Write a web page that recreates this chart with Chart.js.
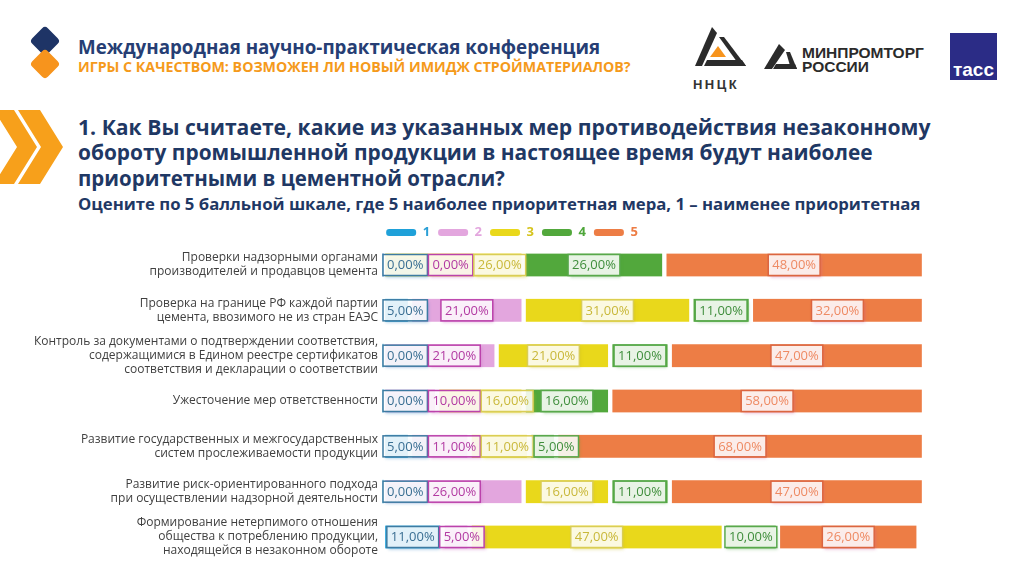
<!DOCTYPE html>
<html>
<head>
<meta charset="utf-8">
<script src="https://cdn.jsdelivr.net/npm/chart.js@4.4.0/dist/chart.umd.min.js"></script>
<style>
  body { margin: 0; width: 1024px; height: 576px; overflow: hidden; background: #fff; position: relative; font-family: 'Open Sans', sans-serif; }
  .t { position: absolute; white-space: nowrap; line-height: 1; }
  #wrap { position: absolute; left: 0; top: 218px; width: 1024px; height: 358px; }
</style>
</head>
<body>
<!-- decorations: diamonds, chevrons, logos -->
<svg width="1024" height="200" style="position:absolute;left:0;top:0">
  <rect x="34" y="30" width="22" height="22" rx="4" fill="#1e3466" transform="rotate(45 45 41)"/>
  <rect x="34" y="53" width="22" height="22" rx="4" fill="#f7941d" transform="rotate(45 45 64)"/>
  <polygon points="-6,110 14,110 37,147 14,184 -6,184 17,147" fill="#f7a01b"/>
  <polygon points="18,110 40,110 63,147 40,184 18,184 41,147" fill="#f7a01b"/>
  <!-- ННЦК -->
  <polygon points="712,27 717,33 702,66 695,66" fill="#2b2b2b"/>
  <polygon points="719,37 724,37 746,66 740,66" fill="#2b2b2b"/>
  <polygon points="707,60 742,60 746,66 704,66" fill="#2b2b2b"/>
  <polygon points="718,46 726,57 710,57" fill="#f7941d"/>
  <text x="716" y="89" text-anchor="middle" font-family="Liberation Sans" font-weight="700" font-size="13" letter-spacing="2.5" fill="#333">ННЦК</text>
  <!-- Минпромторг -->
  <polygon points="779,44 785,50 772,69 764,69" fill="#2b2b2b"/>
  <polygon points="786,52 790,52 797,69 791,69" fill="#2b2b2b"/>
  <polygon points="776,64 795,64 797,69 773,69" fill="#2b2b2b"/>
  <text x="802" y="58" font-family="Liberation Sans" font-weight="700" font-size="15.5" fill="#2b2b2b">МИНПРОМТОРГ</text>
  <text x="802" y="72" font-family="Liberation Sans" font-weight="700" font-size="15.5" fill="#2b2b2b">РОССИИ</text>
  <!-- ТАСС -->
  <rect x="950" y="33" width="47" height="47" fill="#2b2c86"/>
  <text x="973.5" y="76" text-anchor="middle" font-family="Liberation Sans" font-weight="700" font-size="19" fill="#fff">тасс</text>
</svg>

<div class="t fit" data-w="522" data-cy="47" style="left:78px;font-size:18px;font-weight:700;color:#263e74">Международная научно-практическая конференция</div>
<div class="t fit" data-w="553" data-cy="67" style="left:78px;font-size:13px;font-weight:700;color:#f59a1b">ИГРЫ С КАЧЕСТВОМ: ВОЗМОЖЕН ЛИ НОВЫЙ ИМИДЖ СТРОЙМАТЕРИАЛОВ?</div>
<div class="t fit" data-w="853" data-cy="126" style="left:78px;font-size:20px;font-weight:700;color:#1f3864">1. Как Вы считаете, какие из указанных мер противодействия незаконному</div>
<div class="t fit" data-w="795" data-cy="152" style="left:78px;font-size:20px;font-weight:700;color:#1f3864">обороту промышленной продукции в настоящее время будут наиболее</div>
<div class="t fit" data-w="427" data-cy="178" style="left:78px;font-size:20px;font-weight:700;color:#1f3864">приоритетными в цементной отрасли?</div>
<div class="t fit" data-w="843" data-cy="204" style="left:78px;font-size:16px;font-weight:700;color:#1f3864">Оцените по 5 балльной шкале, где 5 наиболее приоритетная мера, 1 – наименее приоритетная</div>

<div id="wrap"><canvas id="c"></canvas></div>

<script>
// fit header lines to the widths seen in the reference
document.querySelectorAll('.fit').forEach(function (el) {
  var fs = parseFloat(el.style.fontSize);
  el.style.fontSize = (fs * el.dataset.w / el.offsetWidth) + 'px';
  el.style.top = (el.dataset.cy - el.offsetHeight / 2) + 'px';
});

// data
const categories = [
  ['Проверки надзорными органами', 'производителей и продавцов цемента'],
  ['Проверка на границе РФ каждой партии', 'цемента, ввозимого не из стран ЕАЭС'],
  ['Контроль за документами о подтверждении соответствия,', 'содержащимися в Едином реестре сертификатов', 'соответствия и декларации о соответствии'],
  ['Ужесточение мер ответственности'],
  ['Развитие государственных и межгосударственных', 'систем прослеживаемости продукции'],
  ['Развитие риск-ориентированного подхода', 'при осуществлении надзорной деятельности'],
  ['Формирование нетерпимого отношения', 'общества к потреблению продукции,', 'находящейся в незаконном обороте']
];
const seriesNames = ['1', '2', '3', '4', '5'];
const score1 = [0, 5, 0, 0, 5, 0, 11];
const score2 = [0, 21, 21, 10, 11, 26, 5];
const score3 = [26, 31, 21, 16, 11, 16, 47];
const score4 = [26, 11, 11, 16, 5, 11, 10];
const score5 = [48, 32, 47, 58, 68, 47, 26];

// styles
const barColors = ['#1fa1d9', '#e3a6de', '#e9d81b', '#52a83c', '#ed7d45'];
const legendText = ['#2a9fd6', '#e3a6de', '#d6c41e', '#4ea63a', '#ed7d45'];
const labelText = ['#3a6f93', '#b23aa2', '#c9b83a', '#3f8e3c', '#ee8a63'];
const labelBorder = ['#3d7ba2', '#bb42ab', '#d9cd55', '#58a84b', '#db6540'];
const labelShadow = ['rgba(40,130,190,0.45)', 'rgba(190,70,180,0.4)', 'rgba(200,185,30,0.45)', 'rgba(70,160,60,0.4)', 'rgba(200,80,150,0.4)'];

// value boxes: centred on the segment, pushed right so they never overlap
const valueLabels = {
  id: 'valueLabels',
  afterDatasetsDraw(chart) {
    const ctx = chart.ctx;
    ctx.save();
    ctx.font = '13px "Open Sans"';
    ctx.textAlign = 'center';
    ctx.textBaseline = 'middle';
    for (let i = 0; i < chart.data.labels.length; i++) {
      let prevRight = chart.chartArea.left - 1;
      chart.data.datasets.forEach(function (ds, d) {
        const bar = chart.getDatasetMeta(d).data[i];
        const txt = ds.data[i].toFixed(2).replace('.', ',') + '%';
        const w = ctx.measureText(txt).width + 8;
        const h = 21;
        let x = Math.max((bar.x + bar.base) / 2 - w / 2, prevRight + 1);
        const y = bar.y - h / 2;
        ctx.shadowColor = labelShadow[d];
        ctx.shadowBlur = 3;
        ctx.shadowOffsetX = 1.5;
        ctx.shadowOffsetY = 2;
        ctx.fillStyle = 'rgba(255,255,255,0.87)';
        ctx.fillRect(x, y, w, h);
        ctx.shadowColor = 'transparent';
        ctx.strokeStyle = labelBorder[d];
        ctx.lineWidth = 1.5;
        ctx.strokeRect(x, y, w, h);
        ctx.fillStyle = labelText[d];
        ctx.fillText(txt, x + w / 2, bar.y + 0.5);
        prevRight = x + w;
      });
    }
    ctx.restore();
  }
};

const allScores = [score1, score2, score3, score4, score5];

new Chart(document.getElementById('c'), {
  type: 'bar',
  data: {
    labels: categories,
    datasets: allScores.map(function (vals, k) {
      return {
        label: seriesNames[k],
        data: vals,
        backgroundColor: barColors[k],
        borderColor: '#fff',
        borderWidth: { left: 2.5, right: 2.5, top: 0, bottom: 0 },
        borderSkipped: false,
        barThickness: 23,
        clip: false
      };
    })
  },
  options: {
    indexAxis: 'y',
    responsive: true,
    maintainAspectRatio: false,
    animation: false,
    layout: { padding: { left: 0, right: 0, top: 0, bottom: 39 } },
    scales: {
      x: {
        stacked: true, min: 0, max: 100, position: 'top',
        grid: { display: false, drawTicks: false }, border: { display: false },
        ticks: { display: false },
        afterFit(s) { s.height = 16; }
      },
      y: {
        stacked: true, offset: false,
        grid: { display: false, drawTicks: false }, border: { display: false },
        ticks: { color: '#404040', padding: 5, font: { family: 'Open Sans', size: 12, lineHeight: 1.17 } },
        afterFit(s) { s.width = 383; }
      },
      // empty right-hand axis that only reserves the margin
      yRight: {
        position: 'right', display: true,
        grid: { display: false, drawTicks: false }, border: { display: false },
        ticks: { display: false },
        afterFit(s) { s.width = 100; }
      }
    },
    plugins: {
      tooltip: { enabled: false },
      legend: {
        position: 'top',
        labels: {
          boxWidth: 30, boxHeight: 7, padding: 8, useBorderRadius: true, borderRadius: 3,
          font: { family: 'Open Sans', size: 13, weight: 'bold' },
          generateLabels(chart) {
            const items = Chart.defaults.plugins.legend.labels.generateLabels(chart);
            items.forEach(function (it, k) { it.fontColor = legendText[k]; it.lineWidth = 0; it.strokeStyle = barColors[k]; });
            return items;
          }
        }
      }
    }
  },
  plugins: [valueLabels]
});
</script>
</body>
</html>
